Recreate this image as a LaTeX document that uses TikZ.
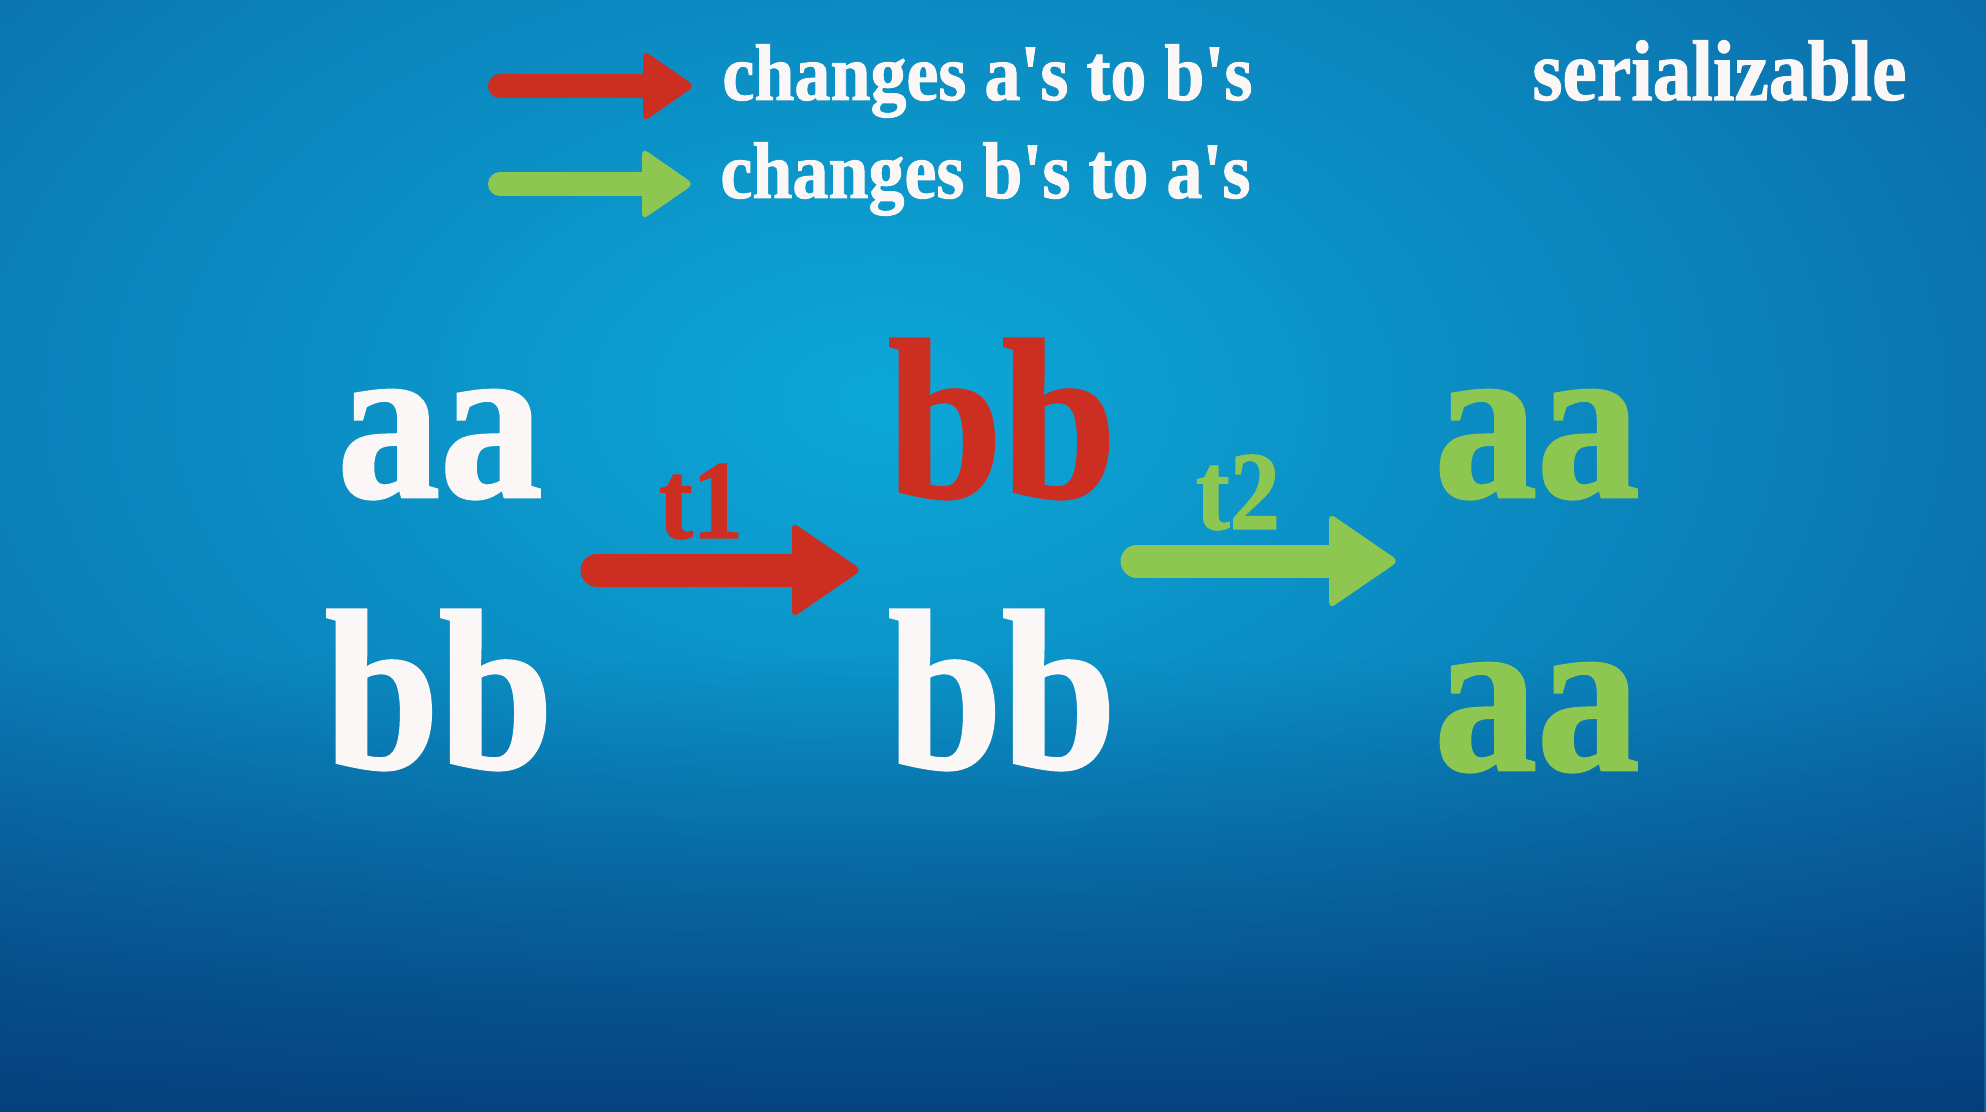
\documentclass[tikz,border=0pt]{standalone}
\usepackage{fontspec}
\setmainfont{Liberation Serif}
\newfontfamily\fatfont{Liberation Serif}[FakeStretch=0.9, FakeBold=1.2]
\usepackage{tikz}
\usetikzlibrary{positioning, calc, fadings}

\definecolor{bgcentre}{HTML}{0CA8D8}
\definecolor{bgedge}{HTML}{0A5A9C}
\definecolor{bgdeep}{HTML}{03326E}
\definecolor{changeRed}{HTML}{CC2F21}
\definecolor{changeGreen}{HTML}{8DC650}
\definecolor{chalk}{HTML}{FCF7F7}
\tikzfading[name=fadeup, top color=transparent!100, bottom color=transparent!0]

% fat arrow: colour, start, tip, shaft width, head half height, head length
\newcommand{\fatarrow}[6]{%
  \draw[#1, line width=#4, line cap=round] (#2) -- ($(#3)+(-#6,0)$);
  \fill[#1, rounded corners=3.5pt] ($(#3)+(-#6,-#5)$) -- (#3) -- ($(#3)+(-#6,#5)$) -- cycle;
}

\begin{document}
\begin{tikzpicture}[
  x=0.5pt, y=-0.5pt,
  bigword/.style={font=\fatfont\bfseries\fontsize{114}{114}\selectfont, anchor=base, inner sep=0pt},
  steplabel/.style={font=\fatfont\bfseries\fontsize{56}{56}\selectfont, anchor=base, inner sep=0pt},
  legendtext/.style={font=\fatfont\bfseries\fontsize{40}{40}\selectfont, anchor=base west, inner sep=0pt, text=chalk}
]
% --- background ---
\useasboundingbox (0,0) rectangle (1986,1112);
\begin{scope}
  \clip (0,0) rectangle (1986,1112);
  \shade[inner color=bgcentre, outer color=bgedge] (880,400) ellipse [x radius=1700, y radius=1050];
  \fill[bgdeep, path fading=fadeup, fill opacity=0.9] (0,660) rectangle (1986,1220);
\end{scope}

% --- legend ---
\coordinate (redFrom) at (500,86);
\coordinate (redTip) at (695,86);
\coordinate (greenFrom) at (500,184);
\coordinate (greenTip) at (694,184);
\fatarrow{changeRed}{redFrom}{redTip}{12pt}{36}{52}
\fatarrow{changeGreen}{greenFrom}{greenTip}{12pt}{36}{52}
\node[legendtext] (redText) at (722,100) {changes a's to b's};
\node[legendtext] (greenText) at (720,198) {changes b's to a's};
\node[legendtext, font=\fatfont\bfseries\fontsize{43}{43}\selectfont] (serial) at (1532,100) {serializable};

% --- states ---
\node[bigword, text=chalk] (aaStart) at (440,497) {aa};
\node[bigword, text=chalk] (bbStart) at (439,768) {bb};
\node[bigword, text=changeRed] (bbMidTop) at (1002,497) {bb};
\node[bigword, text=chalk] (bbMidLow) at (1002,768) {bb};
\node[bigword, text=changeGreen] (aaEndTop) at (1537,497) {aa};
\node[bigword, text=changeGreen] (aaEndLow) at (1537,770) {aa};

% --- transactions ---
\node[steplabel, text=changeRed] (tOne) at (701,538) {t1};
\node[steplabel, text=changeGreen] (tTwo) at (1238,529) {t2};
\coordinate (oneFrom) at (597,570);
\coordinate (oneTip) at (862,570);
\coordinate (twoFrom) at (1137,561);
\coordinate (twoTip) at (1399,561);
\fatarrow{changeRed}{oneFrom}{oneTip}{16.5pt}{48}{70}
\fatarrow{changeGreen}{twoFrom}{twoTip}{16.5pt}{48}{70}
\end{tikzpicture}
\end{document}
